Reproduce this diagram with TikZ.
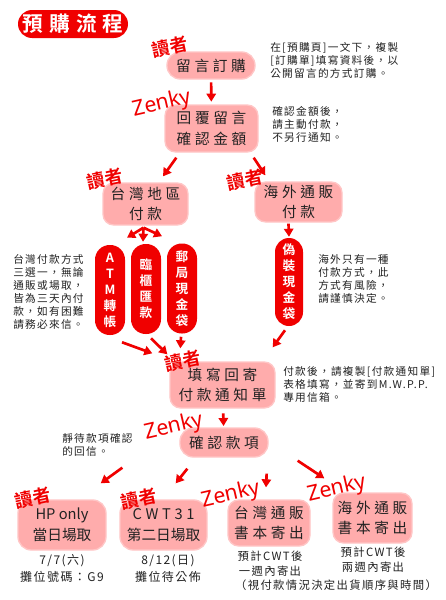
\documentclass[tikz,border=0pt]{standalone}
\usepackage{fontspec}
\usepackage{xcolor}
\usetikzlibrary{arrows.meta,calc}
\newfontfamily\cjk{Noto Sans CJK TC}[BoldFont={* Bold}]
\newfontfamily\cjkbox{Noto Sans CJK TC}[LetterSpace=25]
\newfontfamily\cjknote{Noto Sans CJK TC}[LetterSpace=12]
\newfontfamily\cjktitle{Noto Sans CJK TC Bold}[LetterSpace=30]
\newfontfamily\latin{Noto Sans}
\definecolor{flowred}{HTML}{F00000}
\definecolor{flowpink}{HTML}{FFACAC}
\definecolor{flowedge}{HTML}{FFC6C6}
\definecolor{flowink}{HTML}{222222}

\begin{document}
\begin{tikzpicture}[x=0.75pt,y=-0.75pt,
  stepbox/.style={fill=flowpink,draw=flowedge,line width=1pt,rounded corners=8pt,inner sep=0pt,align=center,text=flowink,font=\cjkbox\fontsize{11}{15.5}\selectfont},
  pill/.style={fill=flowred,rounded corners=11pt,inner sep=0pt,minimum width=22.5pt,minimum height=67.5pt,align=center,text=white,font=\cjk\bfseries\fontsize{9.5}{12}\selectfont},
  note/.style={anchor=west,inner sep=0pt,align=left,text=flowink,font=\cjknote\fontsize{8}{9.75}\selectfont},
  info/.style={inner sep=0pt,align=center,text=flowink,font=\cjknote\fontsize{8.5}{11}\selectfont},
  who/.style={text=flowred,inner sep=0pt,rotate=12,font=\cjk\bfseries\fontsize{13.5}{13.5}\selectfont},
  zen/.style={text=flowred,inner sep=0pt,rotate=13,font=\latin\fontsize{16}{16}\selectfont},
  arr/.style={draw=flowred,line width=2pt,-{Triangle[width=7pt,length=6pt]}}]
  \path[use as bounding box,fill=white] (0,0) rectangle (446,600);

  % title
  \node[fill=flowred,rounded corners=10.5pt,minimum width=82.5pt,minimum height=21pt,inner sep=0pt,text=white,font=\cjktitle\fontsize{15.5}{15.5}\selectfont] (title) at (73,24) {預購流程};

  % steps
  \node[stepbox,minimum width=66pt,minimum height=20.25pt,rounded corners=10pt] (order) at (211,65.5) {留言訂購};
  \node[stepbox,minimum width=69.75pt,minimum height=35.25pt] (reply) at (211.5,128.5) {回覆留言\\確認金額};
  \node[stepbox,minimum width=63.75pt,minimum height=31.5pt] (tw) at (145.5,204) {台灣地區\\付款};
  \node[stepbox,minimum width=65.25pt,minimum height=30pt] (ov) at (298.5,202) {海外通販\\付款};
  \node[pill] (atm) at (110,290) {A\\T\\M\\轉\\帳};
  \node[pill] (counter) at (146,289) {臨\\櫃\\匯\\款};
  \node[pill] (post) at (182,288.5) {郵\\局\\現\\金\\袋};
  \node[pill,minimum width=21pt,minimum height=66pt,rounded corners=10.5pt] (fake) at (289,282) {偽\\裝\\現\\金\\袋};
  \node[stepbox,minimum width=78.75pt,minimum height=34.5pt] (notice) at (222.5,385) {填寫回寄\\付款通知單};
  \node[stepbox,minimum width=66pt,minimum height=21.75pt,rounded corners=10pt] (confirm) at (224,442.5) {確認款項};
  \node[stepbox,minimum width=66pt,minimum height=37.5pt,rounded corners=10pt,font=\cjk\fontsize{11}{15.5}\selectfont] (hp) at (62,525) {HP only\\當日場取};
  \node[stepbox,minimum width=65.25pt,minimum height=37.5pt,rounded corners=10pt,font=\cjk\fontsize{11}{15.5}\selectfont] (cwt) at (163.5,525) {{\cjkbox CWT31}\\第二日場取};
  \node[stepbox,minimum width=61.5pt,minimum height=34.5pt] (twship) at (269,523) {台灣通販\\書本寄出};
  \node[stepbox,minimum width=59.25pt,minimum height=37.5pt] (ovship) at (372.5,518) {海外通販\\書本寄出};

  % side notes
  \node[note] (n1) at (270,60) {在{[}預購頁{]}一文下，複製\\{[}訂購單{]}填寫資料後，以\\公開留言的方式訂購。};
  \node[note] (n2) at (272,124) {確認金額後，\\請主動付款，\\不另行通知。};
  \node[note] (n3) at (13,291.5) {台灣付款方式\\三選一，無論\\通販或場取，\\皆為三天內付\\款，如有困難\\請務必來信。};
  \node[note] (n4) at (318,279) {海外只有一種\\付款方式，此\\方式有風險，\\請謹慎決定。};
  \node[note] (n5) at (283,384.5) {付款後，請複製{[}付款通知單{]}\\表格填寫，並寄到M.W.P.P.\\專用信箱。};
  \node[note] (n6) at (62,445) {靜待款項確認\\的回信。};
  \node[info,font=\cjknote\fontsize{9}{12.75}\selectfont] (hpinfo) at (62,568.5) {7/7(六)\\攤位號碼：G9};
  \node[info,font=\cjknote\fontsize{9}{12.75}\selectfont] (cwtinfo) at (168,568.5) {8/12(日)\\攤位待公佈};
  \node[info] (twinfo) at (270,564) {預計CWT後\\一週內寄出};
  \node[info] (ovinfo) at (373,559.5) {預計CWT後\\兩週內寄出};
  \node[info] (delay) at (336,585) {（視付款情況決定出貨順序與時間）};

  % who does it
  \node[who] (who1) at (170,47) {讀者};
  \node[zen] (zen1) at (162,104) {Zenky};
  \node[who] (who2) at (105,179) {讀者};
  \node[who] (who3) at (245,180) {讀者};
  \node[who] (who4) at (183,361) {讀者};
  \node[zen] (zen2) at (174,427) {Zenky};
  \node[who] (who5) at (33,498) {讀者};
  \node[who] (who6) at (139,499) {讀者};
  \node[zen] (zen3) at (231,495) {Zenky};
  \node[zen] (zen4) at (337,489) {Zenky};

  % arrows
  \draw[arr,shorten <=2pt,shorten >=2pt] (order) -- (reply);
  \draw[arr] ($(reply.south west)+(12,5)$) -- ($(tw.north)+(17.5,-6)$);
  \draw[arr] ($(reply.south east)+(-5,5)$) -- ($(ov.north west)+(11,-6)$);
  \draw[arr] ($(tw.south)+(-2,2)$) -- ($(atm.north)+(17,-7)$);
  \draw[arr] ($(tw.south)+(-2,2)$) -- ($(counter.north)+(-3,-2)$);
  \draw[arr] ($(tw.south)+(-2,2)$) -- ($(post.north)+(-20,-7)$);
  \draw[arr] ($(ov.south)+(-10,1)$) -- ($(fake.north)+(0,-1)$);
  \draw[arr] ($(atm.south)+(12,7)$) -- ($(notice.north west)+(-17,-8)$);
  \draw[arr] ($(counter.south)+(5,4)$) -- ($(notice.north west)+(-2,-7)$);
  \draw[arr] ($(post.south)+(-1,3)$) -- ($(notice.north west)+(11,-13)$);
  \draw[arr] ($(fake.south)+(-4,4)$) -- ($(notice.north east)+(-3,-14)$);
  \draw[arr,shorten <=3.5pt,shorten >=1pt] (notice) -- (confirm);
  \draw[arr] ($(confirm.south west)+(-57,10)$) -- ($(hp.north east)+(-6,-16)$);
  \draw[arr] ($(confirm.south west)+(8,11)$) -- ($(cwt.north east)+(-32,-16)$);
  \draw[arr] ($(confirm.south east)+(-2,16)$) -- ($(twship.north)+(-3,-12)$);
  \draw[arr] ($(confirm.south east)+(29,3)$) -- ($(ovship.north west)+(-8,-14)$);
\end{tikzpicture}
\end{document}
